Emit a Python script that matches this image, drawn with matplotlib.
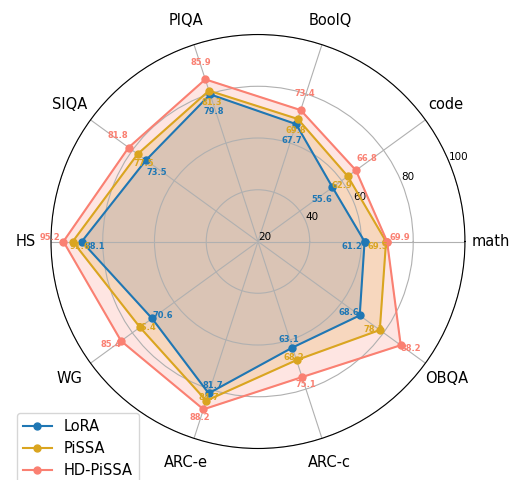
import matplotlib
matplotlib.use("Agg")
import matplotlib.pyplot as plt
import numpy as np

categories = ["math", "code", "BoolQ", "PIQA", "SIQA", "HS", "WG", "ARC-e", "ARC-c", "OBQA"]
lora = [61.2, 55.6, 67.7, 79.8, 73.5, 88.1, 70.6, 81.7, 63.1, 68.6]
pissa = [69.5, 62.9, 69.8, 81.3, 77.5, 91.6, 76.4, 84.7, 68.2, 78.2]
hd_pissa = [69.9, 66.8, 73.4, 85.9, 81.8, 95.2, 85.4, 88.2, 75.1, 88.2]

# (name, values, colour, label radial offset, label vertical alignment)
series = [
    ("LoRA", lora, "#1f77b4", -5, "top"),
    ("PiSSA", pissa, "#DAA520", -3, "top"),
    ("HD-PiSSA", hd_pissa, "#FA8072", 5, "bottom"),
]

angles = np.linspace(0, 2 * np.pi, len(categories), endpoint=False)
closed = np.append(angles, angles[0])

fig = plt.figure(figsize=(5.14, 4.8), dpi=100)
ax = fig.add_axes([0.0992, 0.0656, 0.8054, 0.8625], polar=True)

for name, vals, color, off, va in series:
    v = np.append(vals, vals[0])
    ax.plot(closed, v, color=color, linewidth=1.5, marker="o", markersize=5, label=name)
    ax.fill(closed, v, color=color, alpha=0.2)
    for a, val in zip(angles, vals):
        ax.text(a, val + off, f"{val}", color=color, fontsize=6, fontweight="bold",
                ha="center", va=va)

ax.set_xticks(angles)
ax.set_xticklabels(categories, fontsize=10.5)
ax.tick_params(axis="x", pad=8)
ax.set_ylim(20, 100)
ax.set_yticks([20, 40, 60, 80, 100])
ax.set_yticklabels(["20", "40", "60", "80", "100"], fontsize=7.5)

ax.legend(loc="upper left", bbox_to_anchor=(17 / 514, 1 - 413 / 480),
          bbox_transform=fig.transFigure, borderaxespad=0, fontsize=10.5)

fig.savefig("out.png", dpi=100)
